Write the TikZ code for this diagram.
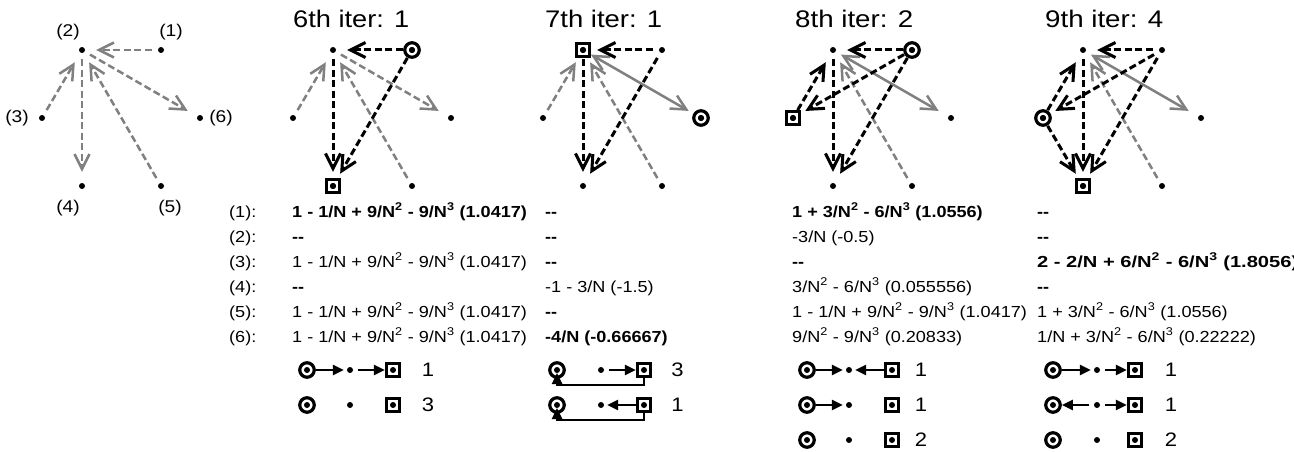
\documentclass[tikz,border=0pt]{standalone}
\usepackage{fontspec}
\setmainfont{Liberation Sans}
\usepackage{graphicx}
\usetikzlibrary{arrows.meta}
\definecolor{eg}{RGB}{128,128,128}
\newcommand{\hs}[1]{\scalebox{1.13}[1]{#1}}
\newcommand{\sq}[1]{\textsuperscript{#1}}
\newcommand{\dd}{\textbf{-{}-}}
\newcommand{\fa}{1 - 1/N + 9/N\sq{2} - 9/N\sq{3} (1.0417)}
\newcommand{\mkgraph}[2]{%
  \node[dot] (#1-1) at (#2+161,50) {};
  \node[dot] (#1-2) at (#2+82,50) {};
  \node[dot] (#1-3) at (#2+42,118) {};
  \node[dot] (#1-6) at (#2+200,118) {};
  \node[dot] (#1-4) at (#2+82,186) {};
  \node[dot] (#1-5) at (#2+161,186) {};}
\tikzset{
  dot/.style={circle, fill=black, inner sep=0pt, minimum size=6pt},
  cmark/.style={circle, draw, line width=3.2pt, minimum size=14.5pt, inner sep=0pt,
    path picture={\fill[black] (path picture bounding box.center) circle (3pt);}},
  smark/.style={rectangle, draw, line width=3.2pt, minimum size=13pt, inner sep=0pt,
    path picture={\fill[black] (path picture bounding box.center) circle (3pt);}},
  barb/.style={-{Straight Barb[length=15pt,width=15pt]}},
  ge/.style={barb, draw=eg, line width=2.5pt, dash pattern=on 7pt off 3.5pt, shorten <=6pt, shorten >=11pt},
  be/.style={barb, draw=black, line width=3pt, dash pattern=on 7pt off 3.5pt, shorten <=6pt, shorten >=11pt},
  gs/.style={{Straight Barb[length=15pt,width=15pt]}-{Straight Barb[length=15pt,width=15pt]}, draw=eg, line width=2.5pt, shorten <=6pt, shorten >=11pt},
  lar/.style={line width=2.4pt, -{Triangle[length=11pt,width=10pt]}},
  ttl/.style={inner sep=0pt, anchor=base west, font=\fontsize{24}{28}\selectfont},
  lbl/.style={inner sep=0pt, font=\fontsize{17}{20}\selectfont},
  tx/.style={inner sep=0pt, anchor=base west, font=\fontsize{16}{19}\selectfont},
  num/.style={inner sep=0pt, font=\fontsize{19.5}{22}\selectfont},
}
\begin{document}
\begin{tikzpicture}[x=1pt, y=-1pt]
\useasboundingbox (0,0) rectangle (1294,452);
\clip (0,0) rectangle (1294,452);
\fill[white] (0,0) rectangle (1294,452);

% ---------- left graph ----------
\mkgraph{a}{0}
\node[lbl] (la2) at (68,32) {\hs{(2)}};
\node[lbl] (la1) at (171,32) {\hs{(1)}};
\node[lbl] (la3) at (17,118) {\hs{(3)}};
\node[lbl] (la6) at (221,118) {\hs{(6)}};
\node[lbl] (la4) at (68,208) {\hs{(4)}};
\node[lbl] (la5) at (170,208) {\hs{(5)}};
\draw[ge] (a-1) -- (a-2);
\draw[ge] (a-3) -- (a-2);
\draw[ge] (a-2) -- (a-4);
\draw[ge] (a-5) -- (a-2);
\draw[ge] (a-2) -- (a-6);

% ---------- 6th iter ----------
\mkgraph{b}{251}
\node[ttl] (tb) at (293,27.3) {\resizebox{116pt}{\height}{6th iter: 1}};
\draw[ge] (b-3) -- (b-2);
\draw[ge] (b-5) -- (b-2);
\draw[ge] (b-2) -- (b-6);
\draw[be] (b-1) -- (b-2);
\draw[be] (b-1) -- (b-4);
\draw[be] (b-2) -- (b-4);
\node[cmark] (mb1) at (b-1) {};
\node[smark] (mb4) at (b-4) {};

% ---------- 7th iter ----------
\mkgraph{c}{501}
\node[ttl] (tc) at (545,27.3) {\resizebox{117pt}{\height}{7th iter: 1}};
\draw[ge] (c-3) -- (c-2);
\draw[ge] (c-5) -- (c-2);
\draw[gs] (c-2) -- (c-6);
\draw[be] (c-1) -- (c-2);
\draw[be] (c-1) -- (c-4);
\draw[be] (c-2) -- (c-4);
\node[smark] (mc2) at (c-2) {};
\node[cmark] (mc6) at (c-6) {};

% ---------- 8th iter ----------
\mkgraph{d}{751}
\node[ttl] (td) at (795,27.3) {\resizebox{118pt}{\height}{8th iter: 2}};
\draw[ge] (d-5) -- (d-2);
\draw[gs] (d-2) -- (d-6);
\draw[be] (d-1) -- (d-2);
\draw[be] (d-1) -- (d-3);
\draw[be] (d-1) -- (d-4);
\draw[be] (d-2) -- (d-4);
\draw[be] (d-3) -- (d-2);
\node[cmark] (md1) at (d-1) {};
\node[smark] (md3) at (d-3) {};

% ---------- 9th iter ----------
\mkgraph{e}{1001}
\node[ttl] (te) at (1045,27.3) {\resizebox{118pt}{\height}{9th iter: 4}};
\draw[ge] (e-5) -- (e-2);
\draw[gs] (e-2) -- (e-6);
\draw[be] (e-1) -- (e-2);
\draw[be] (e-1) -- (e-3);
\draw[be] (e-1) -- (e-4);
\draw[be] (e-2) -- (e-4);
\draw[be] (e-3) -- (e-2);
\draw[be] (e-3) -- (e-4);
\node[cmark] (me3) at (e-3) {};
\node[smark] (me4) at (e-4) {};

% ---------- table ----------
\foreach \k in {1,...,6} \node[tx] (rl\k) at (229,{217+25*(\k-1)}) {\hs{(\k):}};
% column 6th
\node[tx] (t61) at (292,217) {\hs{\textbf{\fa}}};
\node[tx] (t62) at (292,242) {\hs{\dd}};
\node[tx] (t63) at (292,267) {\hs{\fa}};
\node[tx] (t64) at (292,292) {\hs{\dd}};
\node[tx] (t65) at (292,317) {\hs{\fa}};
\node[tx] (t66) at (292,342) {\hs{\fa}};
% column 7th
\node[tx] (t71) at (545,217) {\hs{\dd}};
\node[tx] (t72) at (545,242) {\hs{\dd}};
\node[tx] (t73) at (545,267) {\hs{\dd}};
\node[tx] (t74) at (545,292) {\hs{-1 - 3/N (-1.5)}};
\node[tx] (t75) at (545,317) {\hs{\dd}};
\node[tx] (t76) at (545,342) {\hs{\textbf{-4/N (-0.66667)}}};
% column 8th
\node[tx] (t81) at (792,217) {\hs{\textbf{1 + 3/N\sq{2} - 6/N\sq{3} (1.0556)}}};
\node[tx] (t82) at (792,242) {\hs{-3/N (-0.5)}};
\node[tx] (t83) at (792,267) {\hs{\dd}};
\node[tx] (t84) at (792,292) {\hs{3/N\sq{2} - 6/N\sq{3} (0.055556)}};
\node[tx] (t85) at (792,317) {\hs{\fa}};
\node[tx] (t86) at (792,342) {\hs{9/N\sq{2} - 9/N\sq{3} (0.20833)}};
% column 9th
\node[tx] (t91) at (1037,217) {\hs{\dd}};
\node[tx] (t92) at (1037,242) {\hs{\dd}};
\node[tx] (t93) at (1037,267) {\resizebox{261pt}{\height}{\textbf{2 - 2/N + 6/N\sq{2} - 6/N\sq{3} (1.8056)}}};
\node[tx] (t94) at (1037,292) {\hs{\dd}};
\node[tx] (t95) at (1037,317) {\hs{1 + 3/N\sq{2} - 6/N\sq{3} (1.0556)}};
\node[tx] (t96) at (1037,342) {\hs{1/N + 3/N\sq{2} - 6/N\sq{3} (0.22222)}};

% ---------- legends ----------
% 6th
\node[cmark] (p1c) at (307,370) {}; \node[dot] (p1d) at (350,370) {}; \node[smark] (p1s) at (393,370) {};
\node[num] (p1n) at (428,370) {\hs{1}};
\draw[lar, shorten >=3pt] (p1c) -- (p1d);
\draw[lar, shorten <=5pt] (p1d) -- (p1s);
\node[cmark] (p2c) at (307,405) {}; \node[dot] (p2d) at (350,405) {}; \node[smark] (p2s) at (393,405) {};
\node[num] (p2n) at (428,405) {\hs{3}};
% 7th
\node[cmark] (q1c) at (557,370) {}; \node[dot] (q1d) at (601,370) {}; \node[smark] (q1s) at (644,370) {};
\node[num] (q1n) at (677.5,370) {\hs{3}};
\draw[lar, shorten <=5pt] (q1d) -- (q1s);
\draw[lar, shorten >=3pt] (q1s.south) -- ++(0,7) -| (q1c.center);
\node[cmark] (q2c) at (557,405) {}; \node[dot] (q2d) at (601,405) {}; \node[smark] (q2s) at (644,405) {};
\node[num] (q2n) at (677.5,405) {\hs{1}};
\draw[lar, shorten >=3pt] (q2s) -- (q2d);
\draw[lar, shorten >=3pt] (q2s.south) -- ++(0,7) -| (q2c.center);
% 8th
\node[cmark] (r1c) at (807,370) {}; \node[dot] (r1d) at (849,370) {}; \node[smark] (r1s) at (892,370) {};
\node[num] (r1n) at (921,370) {\hs{1}};
\draw[lar, shorten >=3pt] (r1c) -- (r1d);
\draw[lar, shorten >=3pt] (r1s) -- (r1d);
\node[cmark] (r2c) at (807,405) {}; \node[dot] (r2d) at (849,405) {}; \node[smark] (r2s) at (892,405) {};
\node[num] (r2n) at (921,405) {\hs{1}};
\draw[lar, shorten >=3pt] (r2c) -- (r2d);
\node[cmark] (r3c) at (807,440) {}; \node[dot] (r3d) at (849,440) {}; \node[smark] (r3s) at (892,440) {};
\node[num] (r3n) at (921,440) {\hs{2}};
% 9th
\node[cmark] (s1c) at (1053,370) {}; \node[dot] (s1d) at (1097,370) {}; \node[smark] (s1s) at (1135,370) {};
\node[num] (s1n) at (1171,370) {\hs{1}};
\draw[lar, shorten >=3pt] (s1c) -- (s1d);
\draw[lar, shorten <=5pt] (s1d) -- (s1s);
\node[cmark] (s2c) at (1053,405) {}; \node[dot] (s2d) at (1097,405) {}; \node[smark] (s2s) at (1135,405) {};
\node[num] (s2n) at (1171,405) {\hs{1}};
\draw[lar, shorten <=5pt] (s2d) -- (s2c);
\draw[lar, shorten <=5pt] (s2d) -- (s2s);
\node[cmark] (s3c) at (1053,440) {}; \node[dot] (s3d) at (1097,440) {}; \node[smark] (s3s) at (1135,440) {};
\node[num] (s3n) at (1171,440) {\hs{2}};
\end{tikzpicture}
\end{document}
